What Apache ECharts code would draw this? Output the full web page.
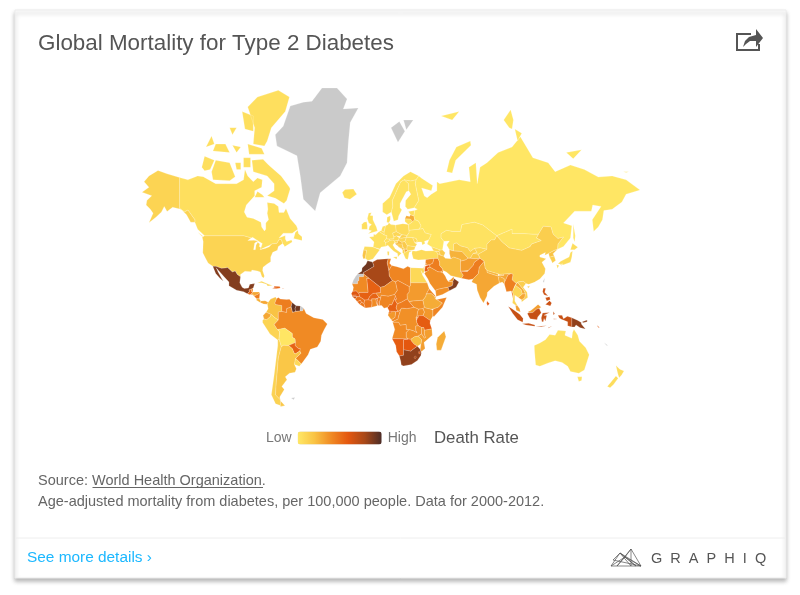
<!DOCTYPE html>
<html>
<head>
<meta charset="utf-8">
<title>Global Mortality for Type 2 Diabetes</title>
<script src="https://cdn.jsdelivr.net/npm/echarts@6/dist/echarts.min.js"></script>
<style>
html,body{margin:0;padding:0;background:#fff}
#main{width:800px;height:595px}
</style>
</head>
<body>
<div id="main"></div>
<script>
// data (deaths per 100,000, estimated from the colour scale)
var countries = ['Canada','United States','Mexico','Guatemala','Belize','Honduras','El Salvador','Nicaragua','Costa Rica','Panama','Cuba','Haiti','Dominican Rep.','Jamaica','Puerto Rico','Trinidad',
  'Colombia','Venezuela','Guyana','Suriname','Ecuador','Peru','Bolivia','Brazil','Paraguay','Uruguay','Chile','Argentina',
  'Iceland','Ireland','United Kingdom','Portugal','Spain','France','Italy','Switzerland','Austria','Germany','Belgium','Netherlands','Denmark','Poland','Czech Rep.','Slovakia','Hungary','Slovenia','Croatia','Bosnia','Serbia','Montenegro','Albania','Macedonia','Bulgaria','Romania','Greece','Moldova','Ukraine','Belarus','Lithuania','Latvia','Estonia','Norway','Sweden','Finland','Russia',
  'Turkey','Georgia','Armenia','Azerbaijan','Syria','Lebanon','Israel','Jordan','Iraq','Kuwait','Iran','Saudi Arabia','Yemen','Oman','UAE','Qatar',
  'Kazakhstan','Uzbekistan','Turkmenistan','Kyrgyzstan','Tajikistan','Afghanistan','Pakistan','India','Bangladesh','Nepal','Bhutan','Sri Lanka','China','Mongolia','North Korea','South Korea','Japan',
  'Myanmar','Thailand','Laos','Vietnam','Cambodia','Malaysia','Indonesia','Philippines','Papua New Guinea','Solomon Is.','Fiji','Australia','New Zealand',
  'Morocco','Algeria','Tunisia','Libya','Egypt','Sudan','South Sudan','Eritrea','Ethiopia','Somalia','Djibouti','Kenya','Uganda','Rwanda','Burundi','Tanzania','DR Congo','Congo','Gabon','Eq. Guinea','Cameroon','CAR','Chad','Niger','Nigeria','Benin','Togo','Ghana','Ivory Coast','Burkina Faso','Mali','Mauritania','Senegal','Gambia','Guinea-Bissau','Guinea','Sierra Leone','Liberia','Angola','Zambia','Malawi','Mozambique','Zimbabwe','Botswana','Namibia','South Africa','Lesotho','Swaziland','Madagascar'];
var deathRates = [5,11,88,55,40,30,35,45,26,30,10,60,55,50,55,65,
  20,45,95,92,30,11,1,40,55,8,12,18,
  5,5,4,20,6,4,7,5,8,6,5,5,5,7,10,12,10,8,22,15,16,18,10,28,10,8,6,8,3,3,5,28,5,3,3,3,1,
  7,8,14,16,42,35,16,60,45,35,22,38,38,88,35,30,
  3,14,26,10,18,33,45,30,28,25,25,58,14,3,20,14,6,
  44,10,28,14,30,33,70,68,85,60,55,3,6,
  92,80,45,42,8,34,38,40,28,42,35,35,38,40,42,58,38,42,35,58,56,45,44,40,42,48,48,40,48,55,56,40,62,50,70,50,52,48,40,38,36,33,22,60,58,85,75,60,28];
var legendText = ['High','Low'];
var legendColors = ['#FFE866','#F9C344','#F08A24','#E4570F','#A84818','#4C2C26'];

// base map, rough country outlines as "lon,lat" rings
var shapes = {
  'Canada':['-141,69.6 -135,69 -128,70 -124,69.8 -115,68 -108,68 -100,68 -95,69 -94,71.5 -92,70 -88,68.5 -85,69.5 -81.5,69 -82,67 -87,66 -87,64.5 -93,61.5 -94.5,59 -92.5,57 -88,56.5 -82.5,55 -82,53 -80,51.2 -79,52 -79,54.7 -77,56 -78,58.5 -77.5,60 -78,62.3 -73,62 -70,61 -69.5,58.8 -66,58.8 -64.5,60.3 -61.5,56.5 -57,53.5 -56,52 -60,50.2 -66.5,50.2 -69.5,48 -65,49.1 -65,47.5 -64,46.2 -60.5,47 -60,46 -65.5,43.5 -66,44.5 -67,45.2 -67.8,47.1 -69.2,47.4 -71,45.3 -74.7,45 -76.5,44.2 -79.5,43.3 -79,42.8 -83.2,42 -82.5,43 -81.5,45.2 -84.5,46.5 -88.5,48.3 -89.5,48 -95,49 -123,49 -128,52 -130,55 -130,56 -135,59.7 -137.5,59 -141,60.3',
    '-61.5,66.5 -64,63 -66,62 -72,63.7 -78,64.5 -73,66 -73,68 -78,70 -88,71 -89,73.5 -81,73.7 -77,72.5 -68,70 -62,67',
    '-117,69 -105,68.8 -101,69.8 -105,73 -115,73.5 -118,71','-125,72 -123,74.3 -116,73.5 -119,71.5 -123,71.2',
    '-62,82.5 -70,83.1 -85,82.5 -92,81.5 -87,79 -88,76.5 -80,76.2 -78,77 -75,79 -65,81','-80,74.7 -91,74.7 -92,76.5 -82,75.8','-88,80.5 -96,81 -94,78.8 -88,78.5',
    '-105,75 -117,75.3 -115,76.5 -108,76.5','-90,74 -95,74 -95,72 -90,72','-97,73 -101,73 -100,71.5 -97,71.5','-59,47.7 -53,46.7 -53,48.5 -55.5,50 -56,51.5 -57.8,50.5','-128,50.7 -123.5,48.4 -125,48.8',
    '-80,64 -87,64 -85,65.8 -81.5,64.8','-100,79 -105,79 -103,78','-97,76 -103,76.3 -100,75','-116,76.5 -122,76 -118,77.8'],
  'United States':['-141,69.6 -150,70.5 -156.5,71.3 -163,70 -166.5,68.5 -163,67 -168,65.6 -161,64.5 -164.5,63 -165,61.5 -162,60 -160,58.5 -163,54.8 -158,57 -154,59 -152,61 -150,59.2 -146,60.7 -140,60 -136,58 -133,55 -130,55 -130,56 -135,59.7 -137.5,59 -141,60.3',
    '-123,49 -95,49 -89.5,48 -92,46.7 -87.5,46.8 -84.5,46.5 -87,45.5 -87.8,42 -86.5,42 -86,44.5 -84.8,45.8 -83.3,45 -83.7,43.7 -82.5,43 -83.2,42 -79,42.8 -76.5,43.5 -74.7,45 -71,45.3 -69.2,47.4 -67.8,47.1 -67,45.2 -70,43.7 -70.7,41.7 -74,40.6 -75.5,38 -75.5,35.2 -78,33.9 -81,32 -81.3,30 -80,26.5 -80.5,25.2 -81.8,26 -83,29 -85,29.7 -89,30.2 -89.5,29.2 -94,29.5 -97.2,27.5 -97.2,26 -99.5,27.5 -101,29.7 -103,29 -106.5,31.8 -108.2,31.5 -111,31.3 -114.8,32.5 -117.1,32.5 -120.5,34.5 -122.5,37.5 -124.3,40.3 -124,46.2 -124.7,48.3'],
  'Greenland':['-45.8,82.1 -38.6,83.3 -27.8,83.3 -20.6,82.3 -23.3,81.3 -12.5,81.4 -18.3,79.7 -19.7,76.7 -20.6,73 -25.5,70 -39.9,65.4 -43.5,59.4 -52,63.4 -54.2,70 -56.6,74.4 -71,76.2 -72.2,78 -66.5,79.2 -61.4,81.6 -52,82'],
  'Mexico':['-117.1,32.5 -114.8,32.5 -111,31.3 -108.2,31.5 -106.5,31.8 -103,29 -101,29.7 -99.5,27.5 -97.2,26 -97.7,22 -96,19 -94.5,18.2 -91.5,18.5 -90.5,21 -87,21.5 -88,18.5 -89.2,17.9 -91,17.2 -90.8,16 -92.2,14.5 -95,16 -100,17 -105.5,20 -105.5,22.5 -109,26 -112.5,29.5 -114.7,31.7 -113,28.5 -110.5,24.5 -109.5,23 -112,25 -115,28'],
  'Guatemala':['-92.2,14.5 -90.8,16 -91,17.2 -89.2,17.9 -89.2,15.9 -88.3,15.7 -89.3,14.4 -90.5,13.9'],
  'Belize':['-89.2,17.9 -88.2,18.4 -88.3,16 -89.2,15.9'],
  'Honduras':['-89.3,14.4 -88.3,15.7 -84,15.8 -83.2,15 -85,14 -87.5,13'],
  'El Salvador':['-90.1,13.8 -89.3,14.4 -87.7,13.8 -87.8,13.2'],
  'Nicaragua':['-87.5,13 -85,14 -83.2,15 -83.7,11 -85.7,11.1'],
  'Costa Rica':['-85.7,11.1 -83.7,11 -82.6,9.5 -83,8.3 -85.7,10'],
  'Panama':['-83,8.3 -82.6,9.5 -79.5,9.6 -77.3,8.6 -77.9,7.2 -80.5,7.3'],
  'Cuba':['-85,22 -82,23.1 -77,21 -74.2,20.2 -77.7,19.9 -78.5,21 -82,22'],
  'Haiti':['-74.4,18.4 -71.7,18 -71.7,19.7 -73,19.9 -72.7,18.9'],
  'Dominican Rep.':['-71.7,18 -68.5,18.5 -69,19.5 -71.7,19.7'],
  'Jamaica':['-78.3,18.3 -76.3,18 -76.8,18.4'],
  'Puerto Rico':['-67,18.4 -65.7,18.3 -66,18 -67,18'],
  'Trinidad':['-61.8,10.2 -61,10.2 -61,10.8 -61.7,10.7'],
  'Colombia':['-77.3,8.6 -75.5,10.8 -72,12.2 -71.3,11 -72.5,8 -72,7 -67.5,6.2 -67.5,2 -70,1.5 -70,-4.2 -72.5,-2.5 -75.3,-0.1 -78.8,1.4 -77.3,4 -77.9,7.2'],
  'Venezuela':['-71.3,11 -70,12 -68.5,10.8 -64,10.5 -62,10.7 -60,8.4 -60.8,5.2 -64,4 -64,1.2 -67.5,2 -67.5,6.2 -72,7 -72.5,8'],
  'Guyana':['-60,8.4 -57.2,6 -58,4 -57.5,2 -59.8,1.3 -60.8,5.2'],
  'Suriname':['-57.2,6 -54,5.8 -54.3,2.3 -57.5,2 -58,4'],
  'French Guiana':['-54,5.8 -51.7,4.2 -52.6,2.3 -54.3,2.3'],
  'Ecuador':['-78.8,1.4 -75.3,-0.1 -75.5,-1.5 -78.4,-4 -80.3,-3.4 -81,-1'],
  'Peru':['-80.3,-3.4 -78.4,-4 -75.5,-1.5 -75.3,-0.1 -72.5,-2.5 -70,-4.2 -73,-7.3 -70.6,-11 -69,-12.5 -69.5,-17.5 -70.4,-18.3 -76,-14 -81.3,-6 -81.3,-4.3'],
  'Brazil':['-60.8,5.2 -59.8,1.3 -57.5,2 -54.3,2.3 -52.6,2.3 -51.7,4.2 -50,0.5 -44.5,-2.5 -38,-3.8 -34.8,-7 -37,-11 -39,-15 -39.5,-19 -42,-23 -47,-24.5 -48.6,-28 -52,-32 -53.5,-33.7 -57.6,-30.2 -53.7,-27 -54.6,-25.6 -54.3,-24 -55.5,-24 -58,-22 -57.8,-20 -58,-17.5 -60,-16.3 -60,-13.7 -65.3,-10 -70.6,-11 -73,-7.3 -70,-4.2 -70,1.5 -67.5,2 -64,1.2 -64,4'],
  'Bolivia':['-69,-12.5 -70.6,-11 -65.3,-10 -60,-13.7 -60,-16.3 -58,-17.5 -57.8,-20 -62.6,-22 -66.2,-21.8 -67.9,-22.8 -69.5,-17.5'],
  'Paraguay':['-57.8,-20 -58,-22 -55.5,-24 -54.3,-24 -54.6,-25.6 -57.6,-27.3 -58.6,-27 -60,-24 -62.6,-22'],
  'Chile':['-70.4,-18.3 -69.5,-17.5 -67.9,-22.8 -70,-30 -71,-40 -71.5,-44 -72,-50 -68.5,-52.3 -68.5,-55 -66,-55.2 -72,-54 -75,-50 -73,-40 -71.5,-30 -70.4,-22'],
  'Argentina':['-66.2,-21.8 -62.6,-22 -60,-24 -58.6,-27 -57.6,-27.3 -54.6,-25.6 -53.7,-27 -57.6,-30.2 -58.4,-34 -57,-36.5 -58,-38.5 -62,-39 -65,-41 -63.8,-42.5 -67.5,-46 -65.7,-47.5 -69,-51 -68.5,-52.3 -72,-50 -71.5,-44 -71,-40 -70,-30 -67.9,-22.8','-68.5,-52.7 -65.2,-54.8 -68.5,-55'],
  'Uruguay':['-57.6,-30.2 -53.5,-33.7 -54.9,-35 -58.4,-34'],
  'Falkland Is.':['-60.8,-51.5 -58,-51.3 -59,-52.3'],
  'Iceland':['-24,65.5 -22,66.4 -16,66.5 -13.6,65 -18.5,63.4 -22.5,63.9'],
  'Ireland':['-10,52 -6,52 -6,53.5 -6.5,55.2 -8.5,55 -10,54'],
  'United Kingdom':['-5.5,50 1.3,51.2 0.5,53 -1,54.8 -2,56 -2,57.6 -4,57.7 -3,58.7 -5,58.6 -6,56.5 -5,54.7 -3,54 -4.5,53.2 -5,51.7 -3,51.3'],
  'Portugal':['-9,37 -7.4,37.2 -7,39.5 -6.5,41.7 -8.8,41.9 -9.5,38.8'],
  'Spain':['-7.4,37.2 -5.5,36 -2,36.8 0,39 3,42 -1.8,43.4 -8,43.7 -8.8,41.9 -6.5,41.7 -7,39.5'],
  'France':['-1.8,43.4 3,42.4 4,43.4 7.5,43.8 7,45.9 6,46.4 7.6,47.6 8.2,49 6,49.5 2.5,51 0,49.5 -1.5,49.7 -1.5,48.7 -4.7,48.4 -1.2,46'],
  'Italy':['7.5,43.8 8.8,44.4 10.5,42.9 13,41.2 15.7,40 16,38 17,39 18.5,40.1 16,41.5 14,42.5 12.3,44.5 13.7,45.7 13.7,46.5 12.4,47 10.5,46.9 8.5,46 7,45.9','12.5,38 15.5,38.2 15,36.7','8.3,41 9.7,41 9.6,39 8.6,39'],
  'Switzerland':['6,46.4 7,45.9 8.5,46 10.5,46.9 9.6,47.5 7.6,47.6'],
  'Austria':['9.6,47.5 10.5,46.9 12.4,47 13.7,46.5 16.1,46.8 17,48 15,49 13,48.5 13,47.6'],
  'Germany':['6,49.5 8.2,49 7.6,47.6 9.6,47.5 13,47.6 13,48.5 12.2,50.3 14.8,50.9 14.3,53.8 11,54 9.5,54.8 8.7,53.9 7,53.5 6,50.7'],
  'Belgium':['2.5,51 6,49.5 6,50.7 4,51.4'],
  'Netherlands':['4,51.4 6,50.7 7,53.5 5,53.2'],
  'Denmark':['8,55 8.2,57 10.5,57.6 10.5,56 9.5,54.8'],
  'Poland':['14.3,53.8 14.8,50.9 18.8,49.5 22.6,49.1 24,50.5 23.6,54 19.5,54.4'],
  'Czech Rep.':['12.2,50.3 14.8,50.9 18.8,49.5 17,48.7 15,49 13,48.5'],
  'Slovakia':['17,48 18.8,49.5 22.6,49.1 22.1,48.3 18.8,47.8'],
  'Hungary':['16.1,46.8 17,48 18.8,47.8 22.1,48.3 21,46.2 18.8,45.9'],
  'Slovenia':['13.7,45.7 13.7,46.5 16.1,46.8 15.5,45.5'],
  'Croatia':['13.7,45.2 15.5,45.5 16.1,46.8 18.8,45.9 19.3,45 16,43.5 18.5,42.5 15,44.5'],
  'Bosnia':['15.8,45 19,45 19.5,43.5 18.5,42.5 16,43.8'],
  'Serbia':['18.8,45.9 21,46.2 22.7,44.2 22.4,42.3 20.5,42.3 19.5,43.5 19,45'],
  'Montenegro':['18.5,42.5 19.5,43.5 20.5,42.3 19.3,41.9'],
  'Albania':['19.3,41.9 20.5,42.3 21,40.6 20,39.7 19.3,40.5'],
  'Macedonia':['20.5,42.3 22.4,42.3 23,41.3 21,40.6'],
  'Bulgaria':['22.7,44.2 28.5,43.6 27.8,42 26.3,41.8 23,41.3 22.4,42.3'],
  'Romania':['21,46.2 22.1,48.3 26.5,48.2 28.2,45.5 29.7,45 28.5,43.6 22.7,44.2'],
  'Greece':['21,40.6 23,41.3 26.3,41.4 24,40.5 23.5,38 23,36.5 21.5,37 20,39.7'],
  'Moldova':['26.5,48.2 29,47.8 30,46.4 28.2,45.5'],
  'Ukraine':['24,50.5 22.6,49.1 22.1,48.3 26.5,48.2 29,47.8 30,46.4 28.2,45.5 30.5,46 33,46 33.5,44.5 35.5,45.2 35,46.3 38.2,47.1 40,49.6 35.5,50.4 34,52.3 31,52 24,51.6'],
  'Belarus':['24,51.6 31,52 32.7,53.4 30.8,55.5 28,56.1 26.5,55.2 23.6,54'],
  'Lithuania':['21,55.3 21,56.4 25,56.3 26.5,55.2 23.6,54 22.8,54.4'],
  'Latvia':['21,56.4 22,57.6 24.4,57.3 25,58 27.5,57.5 28,56.1 26.5,55.2 25,56.3'],
  'Estonia':['23.5,59.2 28,59.5 27.5,57.5 25,58 24.4,58.2'],
  'Norway':['5,59 5,62 10,64 14.5,68 20,70 25,71 31,70 29,69 25,68.7 20.5,69 18,68.5 14,65 12,63 12.3,61 11.3,59 8,58'],
  'Sweden':['11.3,59 12.3,61 12,63 14,65 18,68.5 20.5,69 23.7,68 23.8,66 22,65.7 17.5,62 17.5,60.5 18.8,59.8 16.5,57.5 16,56 13,55.4 12.5,56.5'],
  'Finland':['23.7,68 20.5,69 25,68.7 29,69 28.5,68 31,63 27.7,60.5 23,60 21.3,61 21.5,63 25.3,65 23.8,66'],
  'Svalbard':['11,79 16,76.8 21,78.5 17,79.8','20,80 27,80 22,78.7'],
  'Russia':['28,59.5 30,60 27.7,60.5 31,63 28.5,68 29,69 31,70 33,69.4 41,67.5 40,66 33,66.8 35,64.4 37,63.9 40,65 44,66 44,68.5 46,68 53,68.5 60,69 68,68.5 67,72 72,73 73,68 75,72 80,73 88,75 98,76 104,77.7 113,74 124,73 129,71 140,72.5 150,71.5 160,69.7 170,70 180,69 190,66.2 180,65 177,62.5 170,60 164,59.5 163,56 160,53 156.7,51 155.7,56 162,61 156,61.5 155,59.3 143,59.3 135,54.7 141,53.5 140,48 135,43.7 130.7,42.3 131,45 135,48.4 131,47.7 127.5,49.8 126,53 120.5,53.3 117,49.7 113,49.7 107,50 98,50 98,52 87,49 83,51 77,53.8 71,55 62,54 61,51 55,51 51,51.5 47,50 47,48 49,46.3 48,41.8 46.5,41.8 40,43.5 37,45 38.2,47.1 40,49.6 35.5,50.4 34,52.3 31,52 32.7,53.4 30.8,55.5 28,56.1 27.5,57.5',
    '51,71 55,70.7 57.5,73.5 68.5,76.3 68,77 58,76 53,73.5','142,54.3 143.5,49 143,46 142,48','92,80 97,81.2 99,80 98,78.8 96,79','100,78.8 105,78.2 102,77','47,80.5 60,81 55,80','137,75 148,75.5 142,73.8','178,71 182,71 180,70.8'],
  'Turkey':['26.3,41.4 26,40 27,37 30.5,36.3 36,36.5 42,37.2 44.8,37.2 44.8,39.7 43.5,41.1 41.5,41.5 36,41.3 33,42 29,41.2'],
  'Georgia':['40,43.5 46.5,41.8 45.5,41 43.5,41.1 41.5,41.5'],
  'Armenia':['43.5,41.1 45.5,41 46.5,39 44.8,39.7'],
  'Azerbaijan':['46.5,41.8 48,41.8 50,40.3 48.9,38.4 46.5,39 45.5,41'],
  'Syria':['36,36.5 42,37.2 41,34.4 38.8,33.4 36,33.3 35.8,35'],
  'Lebanon':['35.1,33.1 36,33.3 36.5,34.5 35.9,34.6'],
  'Israel':['34.3,31.3 35.1,33.1 35.7,32.7 35,29.5'],
  'Jordan':['35,29.5 35.7,32.7 36,33.3 38.8,33.4 39,32 37,31.5 38,30 36,29.2'],
  'Iraq':['42,37.2 44.8,37.2 46,35 46,33 48,31 48.5,30 46.5,29 44.7,29.2 39,32 38.8,33.4 41,34.4'],
  'Kuwait':['46.5,29 48.5,30 48.3,28.5'],
  'Iran':['44.8,39.7 46.5,39 48.9,38.4 50,37.3 54,37 56,38 61,36.6 61,31.5 61,29.5 63,27 61.7,25 57,26 54,26.7 50.8,29 48.5,30 48,31 46,33 46,35 44.8,37.2'],
  'Saudi Arabia':['36,29.2 38,30 37,31.5 39,32 44.7,29.2 46.5,29 48.3,28.5 50,26.5 51,24.5 52,23 55.3,22.7 55.7,22 55,20 52,19 49,18.5 44,17.4 43,16.5 42.5,17 39,21.5 37.5,24.5 35,28'],
  'Yemen':['43,16.5 44,17.4 49,18.5 52,19 53,16.7 48,14 43.5,12.7'],
  'Oman':['55.7,22 55.3,22.7 56.3,24.9 56.5,25.5 59.8,22.5 57.8,19 53,16.7 52,19 55,20'],
  'UAE':['52,23 55.3,22.7 56.3,24.9 56,26 54,24.2'],
  'Qatar':['51,24.8 51.6,25 51.3,26.1 51,26'],
  'Kazakhstan':['47,50 51,51.5 55,51 61,51 62,54 71,55 77,53.8 83,51 87,49 85.5,47 83,47 80,45 80,42.2 75,43 71,42.7 68,41 66,43 61,44 58,45.5 56,45 56,41.3 53,42 51,44.5 53,46.5 49,46.3 47,48'],
  'Uzbekistan':['56,41.3 56,45 58,45.5 61,44 66,43 68,41 71,42.7 73,40.5 70,40 68,37.3 66.5,37.3 62,41'],
  'Turkmenistan':['53,42 56,41.3 62,41 66.5,37.3 64.5,36.3 61,35.6 61,36.6 56,38 54,37 53,40'],
  'Kyrgyzstan':['71,42.7 75,43 80,42.2 73.7,39.5 70,40 73,40.5'],
  'Tajikistan':['68,37.3 70,40 73.7,39.5 75,37.3 71.5,37'],
  'Afghanistan':['61,35.6 64.5,36.3 66.5,37.3 68,37.3 71.5,37 75,37.3 71,35 70,33 66.5,30 66,29.4 61,29.5 61,31.5'],
  'Pakistan':['61,29.5 66,29.4 66.5,30 70,33 71,35 75,37.3 78,35.5 74.5,32 73.8,28 70,24.5 67,24 61.7,25 63,27'],
  'India':['78,35.5 74.5,32 73.8,28 70,24.5 69,22.5 72.5,21 73,17 75,12 77.5,8 80,13 80.3,15.5 85,19.7 89,21.8 88.2,25.8 89.8,25.8 92.3,24.8 92.5,22 93.5,24 95,27 97.3,28 92,27.8 92,26.8 89,26.8 88,26.4 80.2,28.7 80,30 78.7,31.5'],
  'Bangladesh':['88.2,25.8 89,21.8 91,22.5 92.5,21 92.5,22 92.3,24.8 89.8,25.8'],
  'Nepal':['80,30 88,27.9 88,26.4 80.2,28.7'],
  'Bhutan':['89,27.5 92,27.8 92,26.8 89,26.8'],
  'Sri Lanka':['80,9.5 81.8,7.5 80.5,6 79.8,7.5'],
  'China':['73.7,39.5 80,42.2 80,45 83,47 85.5,47 87,49 91,46 96,43 105,41.7 111,43.7 112,45 119,46.7 115.5,48 117,49.7 120.5,53.3 126,53 127.5,49.8 131,47.7 135,48.4 131,45 130.7,42.3 128,41.5 124.3,40 121.5,39 122,40.5 118,39 118,38 122.5,37 119.5,35 122,31 121.5,28 118,24.5 114,22.3 110,21 108,21.6 106,23 102,22.5 101,21.5 98,24 98.7,27.5 97.3,28 92,27.8 89,27.5 88,27.9 80,30 78.7,31.5 78,35.5 75,37.3','108.8,19.3 110.8,20 110,18.5'],
  'Mongolia':['87,49 91,46 96,43 105,41.7 111,43.7 112,45 119,46.7 115.5,48 117,49.7 113,49.7 107,50 98,50 98,52'],
  'North Korea':['124.3,40 128,41.5 130.7,42.3 127.5,39.8 128.3,38.6 125,37.9'],
  'South Korea':['125,37.9 128.3,38.6 129.4,36 127,34.5 126.5,35.5'],
  'Japan':['131,34 135,33.5 140,35 141,38 141.5,41.3 140,40.5 139,38 136.5,37 133,35.5','130,33.5 131.8,33 130.7,31.2','132.5,33.8 134.5,34 133.5,33','140,42 141.5,45.3 145.3,43.3 143,42'],
  'Taiwan':['120.2,23 121.5,25.2 121,22'],
  'Myanmar':['92.5,21 94,16 97.5,16.5 98.7,11 99,14 98.3,16 100,20 101,21.5 98,24 98.7,27.5 97.3,28 95,27 93.5,24 92.5,22'],
  'Thailand':['98.3,16 99,14 98.7,11 98.3,8 100.5,6.5 102,6 100,9.5 100,13.5 102.5,12 105.5,14.3 104.5,17.5 100.5,20.3 100,20'],
  'Laos':['100.5,20.3 102,22.4 104,20 106.5,17 107.7,14.7 105.5,14.3 104.5,17.5'],
  'Vietnam':['102,22.4 106,23 108,21.6 106,19 108.8,15.5 109.3,12 107,10.4 105,8.7 104.8,10.4 107,11.5 107.7,14.7 106.5,17 104,20'],
  'Cambodia':['102.5,12 104.8,10.4 107,11.5 107.7,14.7 105.5,14.3'],
  'Malaysia':['100.5,6.5 102,6 103.5,4 104,1.5 101,2.8','109.7,2 111.3,2.5 114,4.7 116.7,7 119,5 117.5,4.2 115.5,3.5 113,1.3 110,1'],
  'Indonesia':['109,0.5 110,1 113,1.3 115.5,3.5 117.5,4.2 119,1 116.5,-2 116,-4 111,-3.3 110,-1.5','95.3,5.6 98,4 103.5,0 106,-3 105.7,-5.8 102,-4 98.5,0.5','105.3,-6.8 110,-6.5 114.5,-7.7 114.3,-8.7 108,-7.8',
    '119.5,-5.5 119,-2.7 120,0.8 125,1.3 121,-0.7 123,-1 122,-5 121,-3 120.5,-5.5','123.5,-10.3 127,-8.4 124.5,-9.3','115,-8.5 119,-8.5 123,-8.3 119,-9','127.5,2 128.7,0.5 127.8,-0.7','127.8,-3.2 130.8,-3.5 128,-3.7',
    '131,-0.8 134,-0.8 135,-3.3 137.8,-1.5 141,-2.6 141,-9.1 138,-8.3 138,-5.5 133.5,-3.7 132,-2.8'],
  'Philippines':['120.5,18.4 122.2,18.4 121.5,15.5 124,13 121,13.8 120,16','122,7 125,9.7 126.5,8 125.5,5.8 124,6.5','122,11.7 125,12.5 125.5,10.5 123,9.5','117.2,8.4 119.5,11.3 119.3,10.7'],
  'Papua New Guinea':['141,-2.6 145,-4.3 147.8,-6 147.8,-7 150.8,-10.5 147,-9.7 144,-7.7 143,-9.2 141,-9.1','148.5,-5.5 152,-4.2 152,-5.5 149,-6.2'],
  'Solomon Is.':['155,-6 156,-6.9 155.5,-7','159,-8 161,-9.5 160,-9.5'],
  'New Caledonia':['164,-20 167,-22 166,-22'],
  'Fiji':['177.5,-17.5 178.6,-17.6 178,-18.2'],
  'Australia':['114,-22 114.2,-26 115,-34.3 118,-35 124,-33 129,-31.7 134,-32.7 138,-35 140,-38 146,-39 150,-37.2 153.5,-28 151,-23.5 146.5,-19 145.3,-15 142.5,-10.8 141.5,-13 141,-17 136,-15 136.7,-12 131,-11.5 129,-15 125,-14.5 122,-18 118,-20.3','145,-41 148.3,-41 148,-43 146,-43.5'],
  'New Zealand':['172.7,-34.5 175.5,-36.8 178.5,-37.7 176.8,-40 175,-41.5 174,-39.2','172.7,-40.5 174.3,-41.7 171,-45 168.5,-46.6 166.5,-46 170.5,-42.5'],
  'Morocco':['-5.9,35.8 -2.2,35.1 -1.2,32.5 -5,30.5 -8.7,28.7 -8.7,27.7 -13,27.7 -10,29.5 -9.8,31.5 -7,33.7'],
  'Western Sahara':['-13,27.7 -8.7,27.7 -8.7,26 -12,26 -12,23.5 -13,23 -13,21.3 -17,21.3 -16,23.8 -14.5,26.2'],
  'Algeria':['-2.2,35.1 1,36.5 9,37 8.3,34.6 9.5,30 9.8,26.5 12,23.5 6,19.5 3.3,19 -4.8,25 -8.7,27.7 -8.7,28.7 -5,30.5 -1.2,32.5'],
  'Tunisia':['9,37 11,37 10,34.3 11.5,33 9.5,30 8.3,34.6'],
  'Libya':['11.5,33 15.3,32.3 20,31 23,32.5 25,31.7 25,20 24,19.5 16,23.5 14.2,22.6 12,23.5 9.8,26.5 9.5,30'],
  'Egypt':['25,31.7 31,31.5 34.3,31.3 35,29.5 34,27.8 32.6,30 33.7,27 37,22 25,22'],
  'Sudan':['25,22 37,22 38.5,18 36.5,14.5 36,12.7 34,10 27,9.5 24,9 22.7,11 22.5,14 24,15.7 24,19.5 25,20'],
  'South Sudan':['24,9 27,9.5 34,10 35,5 34,4 30.8,3.6 27.5,5'],
  'Eritrea':['36.5,14.5 38.5,18 43.3,12.6 42.5,12.5 40,14.5'],
  'Ethiopia':['34,10 36,12.7 36.5,14.5 40,14.5 42.5,12.5 43,11 48,8 45,5 41.9,4 39.7,3.6 36,4.4 35,5'],
  'Somalia':['43,11 44,10.5 51,12 48,5 42,-1.6 41,-1.5 41,3 41.9,4 45,5 48,8'],
  'Djibouti':['42.5,12.5 43.4,12 43,11'],
  'Kenya':['34,4 35,5 36,4.4 39.7,3.6 41,3 41,-1.5 39.3,-4.6 37.7,-3.5 34,-1 35,1.5'],
  'Uganda':['30.8,3.6 34,4 35,1.5 34,-1 29.6,-1.4 30,1.5'],
  'Rwanda':['28.9,-2.3 29.6,-1.4 30.8,-1.1 30.5,-2.4'],
  'Burundi':['29,-2.5 30.5,-2.4 30,-4.3 29.3,-4.4'],
  'Tanzania':['30.8,-1.1 34,-1 37.7,-3.5 39.3,-4.6 39,-6.5 40.4,-10.5 35,-11.5 34.5,-9.5 33,-9.5 30.7,-8.3 29.5,-6 29.3,-4.4 30,-4.3 30.5,-2.4'],
  'DR Congo':['12.2,-5.8 13,-4.8 14,-4.3 16,-3.5 16.2,-2 18,3.5 18.5,4.4 22.5,4 27.5,5 30.8,3.6 30,1.5 29.6,-1.4 28.9,-2.3 29.3,-4.4 29.5,-6 30.7,-8.3 28.8,-8.5 28.8,-11.5 29.8,-13.3 27,-11.8 24,-11 22,-11 21.8,-7.3 17.6,-8 16.5,-5.8'],
  'Congo':['11.2,-4 13.8,-2.3 14.3,1.3 13.3,2.2 16,1.9 18,3.5 16.2,-2 16,-3.5 14,-4.3 13,-4.8 12,-5'],
  'Gabon':['9.3,1 9.7,2.2 13.3,2.2 14.3,1.3 13.8,-2.3 11.2,-4 8.8,-0.7'],
  'Eq. Guinea':['9.3,1 9.7,2.2 11.3,2.2 11.3,1'],
  'Cameroon':['8.5,4.7 9.8,2.2 16,1.9 14.7,4.5 15.5,7.5 13.7,10.5 15,10.7 14.2,13 13.7,11.5 11.5,6.7 10,7 8.7,5'],
  'CAR':['14.7,4.5 16,1.9 18,3.5 18.5,4.4 22.5,4 27.5,5 24,9 22.7,11 18.7,8.8 15.5,7.5'],
  'Chad':['15.5,7.5 18.7,8.8 22.7,11 22.5,14 24,15.7 24,19.5 16,23.5 14.2,22.6 15.5,16.9 13.5,14 14.2,13 15,10.7 13.7,10.5'],
  'Niger':['0,15 3.5,15.4 3.3,19 6,19.5 12,23.5 14.2,22.6 15.5,16.9 13.5,14 9,12.8 4,13.5 3.6,11.7 2.4,12'],
  'Nigeria':['2.7,6.3 2.7,9 3.6,11.7 4,13.5 9,12.8 13.5,14 14.2,13 13.7,11.5 11.5,6.7 10,7 8.7,5 6,4.3 4.3,6.3'],
  'Benin':['1.7,6.2 2.7,6.3 2.7,9 3.6,11.7 2.4,12 0.9,11 1.6,9'],
  'Togo':['1.2,6.1 1.7,6.2 1.6,9 0.9,11 0,11 0.5,8'],
  'Ghana':['-3,5 1.2,6.1 0.5,8 0,11 -2.9,11 -2.7,8'],
  'Ivory Coast':['-7.5,4.4 -3,5 -2.7,8 -2.9,10 -5.5,10.4 -8,10.2 -8.5,7.7'],
  'Burkina Faso':['-5.5,10.4 -2.9,10 -2.9,11 0,11 2.4,12 0,15 -2,14.8 -4.5,12.5'],
  'Mali':['-12.2,14.8 -11.5,12.4 -8,10.2 -5.5,10.4 -4.5,12.5 -2,14.8 0,15 3.5,15.4 3.3,19 -4.8,25 -6.5,25 -5.5,15.5 -11.7,15.5'],
  'Mauritania':['-17,21.3 -13,21.3 -13,23 -12,23.5 -12,26 -8.7,26 -8.7,27.7 -4.8,25 -6.5,25 -5.5,15.5 -11.7,15.5 -12.2,14.8 -14,16.5 -16.5,16.2 -16,19'],
  'Senegal':['-16.5,16.2 -14,16.5 -12.2,14.8 -11.5,12.4 -13.7,12.6 -16.7,12.4 -17.5,14.7'],
  'Gambia':['-16.7,13.6 -13.8,13.6 -13.8,13.3 -16.7,13.2'],
  'Guinea-Bissau':['-16.7,12.4 -13.7,12.6 -13.7,11.7 -15,11'],
  'Guinea':['-13.7,12.6 -11.5,12.4 -8,10.2 -8.5,7.7 -10.3,8.5 -11,10 -13.3,9 -15,11 -13.7,11.7'],
  'Sierra Leone':['-13.3,9 -11,10 -10.3,8.5 -11.4,6.9'],
  'Liberia':['-11.4,6.9 -10.3,8.5 -8.5,7.7 -7.5,4.4'],
  'Angola':['12.2,-5.8 16.5,-5.8 17.6,-8 21.8,-7.3 22,-11 24,-11 22,-13 22,-16.2 23.4,-17.6 18.5,-17.4 11.8,-17.3 13.7,-11'],
  'Zambia':['22,-13 24,-11 27,-11.8 29.8,-13.3 28.8,-11.5 28.8,-8.5 30.7,-8.3 33,-9.5 33,-14 30.4,-15.6 28,-16 25.3,-17.8 23.4,-17.6 22,-16.2'],
  'Malawi':['33,-9.5 34.5,-9.5 35,-11.5 35,-14 35.8,-16.5 35,-17 33,-14'],
  'Mozambique':['35,-11.5 40.4,-10.5 40.7,-15 34.7,-20 35.5,-24 32.8,-26 32,-24.5 32.5,-21 33,-18 30.4,-15.6 33,-14 35,-17 35.8,-16.5 35,-14'],
  'Zimbabwe':['25.3,-17.8 28,-16 30.4,-15.6 33,-18 32.5,-21 30,-22.4 27.5,-21 25.5,-18.7'],
  'Botswana':['20,-18 23.4,-17.6 25.3,-17.8 25.5,-18.7 27.5,-21 30,-22.4 26.5,-24.7 25.3,-25.7 23,-25.3 20,-24.8'],
  'Namibia':['11.8,-17.3 18.5,-17.4 23.4,-17.6 20,-18 20,-28.3 17,-28.8 15,-26 14.4,-22'],
  'South Africa':['17,-28.8 20,-28.3 20,-24.8 23,-25.3 25.3,-25.7 26.5,-24.7 30,-22.4 32,-24.5 32.8,-26.8 32.5,-28.5 30,-31.5 25.7,-34 20,-34.8 18.4,-34.2 18,-32'],
  'Lesotho':['27.5,-29.5 28.5,-28.7 29.3,-29.5 28.3,-30.6'],
  'Swaziland':['30.8,-26 32,-26 32,-27.3 31,-27.3'],
  'Madagascar':['49.3,-12 50.5,-16 47,-25 44,-25 43.5,-21 44.5,-16.5']
};

var features = [];
for (var name in shapes) {
  var polys = shapes[name].map(function (ring) {
    var pts = ring.split(' ').map(function (p) {
      return p.split(',').map(Number);
    });
    pts.push(pts[0]);
    return [pts];
  });
  features.push({
    type: 'Feature',
    properties: {name: name},
    geometry: {type: 'MultiPolygon', coordinates: polys}
  });
}
echarts.registerMap('world', {type: 'FeatureCollection', features: features});

var seriesData = countries.map(function (c, i) {
  return {name: c, value: deathRates[i]};
});

// mercator, y grows downward on screen
var mercator = {
  project: function (p) {
    var lat = p[1] * Math.PI / 180;
    return [p[0], -Math.log(Math.tan(Math.PI / 4 + lat / 2)) * 180 / Math.PI];
  },
  unproject: function (p) {
    return [p[0], (2 * Math.atan(Math.exp(-p[1] * Math.PI / 180)) - Math.PI / 2) * 180 / Math.PI];
  }
};

var font = '"Liberation Sans", Arial, sans-serif';
var myChart = echarts.init(document.getElementById('main'));

var option = {
  backgroundColor: '#fff',
  animation: false,
  title: {
    text: 'Global Mortality for Type 2 Diabetes',
    left: 33,
    top: 28,
    textStyle: {color: '#555', fontSize: 22.4, fontWeight: 'normal', fontFamily: font}
  },
  visualMap: {
    type: 'continuous',
    min: 0,
    max: 100,
    orient: 'horizontal',
    left: 251,
    top: 416,
    itemWidth: 13,
    itemHeight: 84,
    text: legendText,
    textGap: 6,
    calculable: false,
    hoverLink: false,
    textStyle: {color: '#777', fontSize: 14, fontFamily: font},
    inRange: {color: legendColors}
  },
  series: [
    {
      type: 'map',
      map: 'world',
      projection: mercator,
      left: 142,
      top: 88,
      width: 498,
      selectedMode: false,
      silent: true,
      label: {show: false},
      itemStyle: {areaColor: '#cacaca', borderColor: 'rgba(255,255,255,0.4)', borderWidth: 0.5},
      data: seriesData
    }
  ],
  graphic: [
    // card
    {type: 'rect', z: -10, shape: {x: 15, y: 10, width: 771, height: 568}, style: {fill: '#fff', stroke: '#ececec', lineWidth: 1, shadowBlur: 4, shadowOffsetY: 3, shadowColor: 'rgba(0,0,0,0.28)'}},
    {type: 'line', z: 1, shape: {x1: 16, y1: 538, x2: 785, y2: 538}, style: {stroke: '#eee', lineWidth: 1}},
    // share icon
    {type: 'polyline', z: 1, shape: {points: [[751, 34], [737, 34], [737, 50], [759, 50], [759, 44]]}, style: {fill: null, stroke: '#555', lineWidth: 2}},
    {type: 'polygon', z: 1, shape: {points: [[743, 47], [745, 41], [749, 37], [756, 35], [756, 29], [763, 38], [756, 47], [756, 41], [750, 41], [746, 44]]}, style: {fill: '#555'}},
    // legend title and notes
    {type: 'text', z: 1, left: 434, top: 430, style: {text: 'Death Rate', fill: '#555', font: '16.8px ' + font}},
    {type: 'text', z: 1, left: 38, top: 473, style: {text: 'Source: World Health Organization.', fill: '#666', font: '14.5px ' + font}},
    {type: 'line', z: 1, shape: {x1: 92.5, y1: 487.5, x2: 263, y2: 487.5}, style: {stroke: '#666', lineWidth: 1}},
    {type: 'text', z: 1, left: 38, top: 494, style: {text: 'Age-adjusted mortality from diabetes, per 100,000 people. Data for 2000-2012.', fill: '#666', font: '14.5px ' + font}},
    {type: 'text', z: 1, left: 27, top: 550, style: {text: 'See more details \u203a', fill: '#1cb8ff', font: '15.4px ' + font}},
    // logo
    {type: 'polyline', z: 1, shape: {points: [[611, 566], [620, 553], [625, 557], [631, 549], [641, 566], [611, 566], [625, 557], [641, 566], [620, 553], [631, 566], [631, 549], [617, 566], [625, 557], [636, 566], [620, 553], [613, 560], [641, 566]]}, style: {fill: null, stroke: '#555', lineWidth: 0.7}},
    {type: 'text', z: 1, left: 651, top: 551, style: {text: 'G  R  A  P  H  I  Q', fill: '#555', font: '14.5px ' + font}}
  ]
};

myChart.setOption(option);
</script>
</body>
</html>
